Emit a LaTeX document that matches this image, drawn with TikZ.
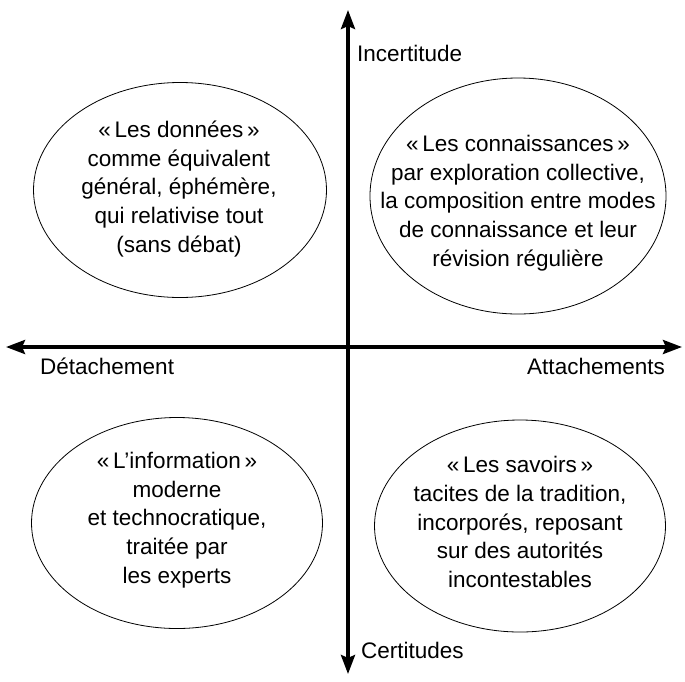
\documentclass[tikz,border=0pt]{standalone}
\usepackage{fontspec}
\setmainfont{Liberation Sans}
\usetikzlibrary{shapes.geometric,arrows.meta}
\begin{document}
\begin{tikzpicture}[x=1pt, y=-1pt,
    every node/.style={font=\fontsize{22.5}{28.7}\selectfont, inner sep=0pt},
    zone/.style={ellipse, draw, line width=0.8pt},
    txt/.style={align=center},
    axis/.style={line width=3.6pt, -{Stealth[length=19pt,width=14pt,inset=3pt]}}]
    \useasboundingbox (0,0) rectangle (685,681);
    % Axis end points
    \coordinate (o) at (348,347);
    \coordinate (top) at (348,10);
    \coordinate (bottom) at (348,674);
    \coordinate (left) at (6,347);
    \coordinate (right) at (682,347);
    
    % Axes
    \draw[axis] (o) -- (top);
    \draw[axis] (o) -- (bottom);
    \draw[axis] (o) -- (left);
    \draw[axis] (o) -- (right);
    
    % Axis labels
    \node[anchor=west] (incert) at (357,53) {Incertitude};
    \node[anchor=west] (cert) at (361,650) {Certitudes};
    \node[anchor=west] (detach) at (40,366) {Détachement};
    \node[anchor=east] (attach) at (665,366) {Attachements};
    
    % Quadrants
    \node[zone, minimum width=293pt, minimum height=215pt] (donnees) at (180,190) {};
    \node[zone, minimum width=296pt, minimum height=236pt] (connaiss) at (518,196) {};
    \node[zone, minimum width=291pt, minimum height=211pt] (info) at (177,523) {};
    \node[zone, minimum width=291pt, minimum height=212pt] (savoirs) at (520,526) {};
    
    % Texts in the quadrants
    \node[txt] (tdonnees) at (179,189)
        {«\,Les données\,»\\comme équivalent\\général, éphémère,\\qui relativise tout\\(sans débat)};
    \node[txt] (tconnaiss) at (518,203)
        {«\,Les connaissances\,»\\par exploration collective,\\la composition entre modes\\de connaissance et leur\\révision régulière};
    \node[txt] (tinfo) at (177,520)
        {«\,L’information\,»\\moderne\\et technocratique,\\traitée par\\les experts};
    \node[txt] (tsavoirs) at (520,522)
        {«\,Les savoirs\,»\\tacites de la tradition,\\incorporés, reposant\\sur des autorités\\incontestables};
\end{tikzpicture}
\end{document}
